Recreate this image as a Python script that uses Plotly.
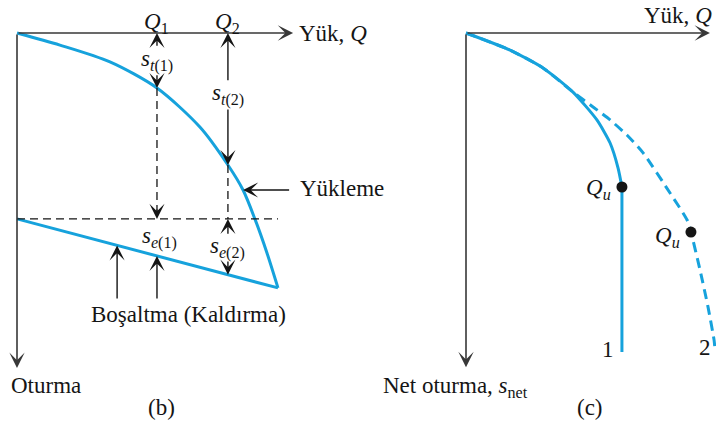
import plotly.graph_objects as go

# ---------------- data ----------------
# (b) loading and unloading of a pile: load Q vs settlement s (arbitrary units)
load_Q = [0, 1.56, 3.38, 5.09, 6.65, 7.67, 8.22, 8.65, 9.09, 9.49]
load_s = [0, 0.44, 1.05, 2.00, 3.42, 4.80, 5.71, 6.76, 8.00, 9.27]
unload_Q = [0, 9.49]
unload_s = [6.76, 9.27]
Q1, Q2 = 5.09, 7.67          # load levels marked on the axis
st1, st2 = 2.00, 4.80        # total settlements at Q1, Q2
s_ref = 6.76                 # dashed reference level
release_Q = [3.64, 5.09]     # where the "Boşaltma" arrows meet the unloading line

# (c) net settlement curves
curve1_Q = [0, 1.60, 2.80, 3.89, 4.76, 5.24, 5.53, 5.67]
curve1_s = [0, 0.62, 1.27, 2.15, 3.16, 4.00, 4.91, 5.60]
plunge1_Q = [5.67, 5.67]
plunge1_s = [5.60, 11.60]
curve2_Q = [0, 1.60, 2.80, 3.93, 4.62, 5.24, 5.85, 6.44, 7.42, 8.04, 8.18, 8.51, 8.80, 9.02, 9.05]
curve2_s = [0, 0.62, 1.27, 2.18, 2.69, 3.16, 3.71, 4.36, 5.82, 6.80, 7.24, 8.62, 9.96, 11.16, 11.45]
Qu1 = (5.67, 5.60)
Qu2 = (8.18, 7.24)

# ---------------- layout geometry ----------------
W, H = 716, 426
PX = 27.5                    # pixels per data unit, both panels
ORIGIN_B = (17, 33)          # axis origin of panel (b) in pixels
ORIGIN_C = (466, 33)         # axis origin of panel (c)
SPLIT = 360                  # pixel column dividing the two panels
axis_len_b = (10.04, 12.18)  # axis arrow lengths (Q, s) in data units
axis_len_c = (8.87, 12.15)

BLUE = "#16a2dc"
INK = "#151515"
AXIS = "#383838"
FONT = "Liberation Serif, Times New Roman, serif"
FS = 23


def arrow(xref, tip, tail, color=INK, width=1.4, size=1.8):
    return dict(x=tip[0], y=tip[1], ax=tail[0], ay=tail[1],
                xref=xref, yref="y", axref=xref, ayref="y",
                text="", showarrow=True, arrowhead=3, arrowsize=size,
                arrowwidth=width, arrowcolor=color, standoff=0)


def label(xref, x, y, text, xanchor="center", yanchor="middle",
          size=FS, xshift=0, yshift=0):
    return dict(x=x, y=y, xref=xref, yref="y", text=text, showarrow=False,
                xanchor=xanchor, yanchor=yanchor, xshift=xshift, yshift=yshift,
                font=dict(family=FONT, size=size, color=INK))


fig = go.Figure()

# ---- panel (b) ----
fig.add_trace(go.Scatter(x=load_Q, y=load_s, mode="lines", xaxis="x", yaxis="y",
                         line=dict(color=BLUE, width=3, shape="spline", smoothing=0.8)))
fig.add_trace(go.Scatter(x=unload_Q, y=unload_s, mode="lines", xaxis="x", yaxis="y",
                         line=dict(color=BLUE, width=3)))
# dashed reference level and dashed verticals
fig.add_trace(go.Scatter(x=[0, load_Q[-1]], y=[s_ref, s_ref], mode="lines",
                         line=dict(color=INK, width=1.3, dash="8px,5px")))
fig.add_trace(go.Scatter(x=[Q1, Q1], y=[st1, s_ref - 0.3], mode="lines",
                         line=dict(color=INK, width=1.3, dash="8px,5px")))
fig.add_trace(go.Scatter(x=[Q2, Q2], y=[st2, s_ref], mode="lines",
                         line=dict(color=INK, width=1.3, dash="8px,5px")))


def unload_at(q):
    return unload_s[0] + (unload_s[1] - unload_s[0]) * q / unload_Q[1]


ann = []
# axes
ann.append(arrow("x", (axis_len_b[0], 0), (0, 0), color=AXIS, width=1.6, size=1.6))
ann.append(arrow("x", (0, axis_len_b[1]), (0, 0), color=AXIS, width=1.6, size=1.6))
ann.append(label("x", axis_len_b[0] + 0.15, 0, "Yük, <i>Q</i>", xanchor="left"))
ann.append(label("x", -0.3, 12.8, "Oturma", xanchor="left"))
ann.append(label("x", 5.27, 13.6, "(b)"))
ann.append(label("x", Q1, -0.38, "<i>Q</i><sub>1</sub>"))
ann.append(label("x", Q2, -0.38, "<i>Q</i><sub>2</sub>"))

# total settlement dimension arrows
lab1, lab2 = 1.0, 2.25
gap = 0.48
ann.append(label("x", Q1, lab1, "<i>s</i><sub><i>t</i>(1)</sub>"))
ann.append(arrow("x", (Q1, 0), (Q1, lab1 - gap)))
ann.append(arrow("x", (Q1, st1), (Q1, lab1 + gap)))
ann.append(arrow("x", (Q1, s_ref), (Q1, s_ref - 0.4)))
ann.append(label("x", Q2, lab2, "<i>s</i><sub><i>t</i>(2)</sub>"))
ann.append(arrow("x", (Q2, 0), (Q2, lab2 - gap)))
ann.append(arrow("x", (Q2, st2), (Q2, lab2 + gap)))

# elastic rebound labels
ann.append(label("x", 5.18, 7.45, "<i>s</i><sub><i>e</i>(1)</sub>"))
lab_e2 = 7.8
ann.append(label("x", Q2, lab_e2, "<i>s</i><sub><i>e</i>(2)</sub>"))
ann.append(arrow("x", (Q2, s_ref), (Q2, lab_e2 - 0.45)))
ann.append(arrow("x", (Q2, unload_at(Q2)), (Q2, lab_e2 + 0.45)))

# callouts
ann.append(arrow("x", (load_Q[6], load_s[6]), (9.95, load_s[6])))
ann.append(label("x", 10.2, load_s[6] - 0.05, "Yükleme", xanchor="left"))
for q in release_Q:
    ann.append(arrow("x", (q, unload_at(q)), (q, 9.71)))
ann.append(label("x", 6.22, 10.25, "Boşaltma (Kaldırma)"))

# ---- panel (c) ----
fig.add_trace(go.Scatter(x=curve2_Q, y=curve2_s, mode="lines", xaxis="x2", yaxis="y",
                         line=dict(color=BLUE, width=3, dash="10px,6px",
                                   shape="spline", smoothing=0.6)))
fig.add_trace(go.Scatter(x=curve1_Q, y=curve1_s, mode="lines", xaxis="x2", yaxis="y",
                         line=dict(color=BLUE, width=3, shape="spline", smoothing=0.6)))
fig.add_trace(go.Scatter(x=plunge1_Q, y=plunge1_s, mode="lines", xaxis="x2", yaxis="y",
                         line=dict(color=BLUE, width=3)))
fig.add_trace(go.Scatter(x=[Qu1[0], Qu2[0]], y=[Qu1[1], Qu2[1]], mode="markers",
                         xaxis="x2", yaxis="y", marker=dict(color=INK, size=11)))

ann.append(arrow("x2", (axis_len_c[0], 0), (0, 0), color=AXIS, width=1.6, size=1.6))
ann.append(arrow("x2", (0, axis_len_c[1]), (0, 0), color=AXIS, width=1.6, size=1.6))
# axis title kept flush with the right edge of the figure
ann.append(dict(x=1, y=-0.62, xref="paper", yref="y", text="Yük, <i>Q</i>",
                showarrow=False, xanchor="right", yanchor="middle", xshift=-2,
                font=dict(family=FONT, size=FS, color=INK)))
ann.append(label("x2", -3.1, 12.87, "Net oturma, <i>s</i><sub>net</sub>", xanchor="left"))
ann.append(label("x2", 4.51, 13.6, "(c)"))
ann.append(label("x2", Qu1[0], Qu1[1], "<i>Q<sub>u</sub></i>", xanchor="right",
                 xshift=-9, yshift=-2))
ann.append(label("x2", Qu2[0], Qu2[1], "<i>Q<sub>u</sub></i>", xanchor="right",
                 xshift=-9, yshift=-5))
ann.append(label("x2", plunge1_Q[-1], plunge1_s[-1], "1", xanchor="right",
                 xshift=-6, yshift=3))
ann.append(label("x2", curve2_Q[-1], curve2_s[-1], "2", xanchor="right",
                 xshift=-2, yshift=0))


def axis_range(origin_px, left_px, right_px):
    return [(left_px - origin_px) / PX, (right_px - origin_px) / PX]


fig.update_layout(
    width=W, height=H, autosize=False,
    margin=dict(l=0, r=0, t=0, b=0, pad=0),
    paper_bgcolor="white", plot_bgcolor="white",
    showlegend=False, hovermode=False,
    font=dict(family=FONT, size=FS, color=INK),
    xaxis=dict(domain=[0, SPLIT / W], range=axis_range(ORIGIN_B[0], 0, SPLIT),
               visible=False, fixedrange=True),
    xaxis2=dict(domain=[SPLIT / W, 1], range=axis_range(ORIGIN_C[0], SPLIT, W),
                anchor="y", visible=False, fixedrange=True),
    yaxis=dict(domain=[0, 1], range=[(H - ORIGIN_B[1]) / PX, -ORIGIN_B[1] / PX],
               visible=False, fixedrange=True),
    annotations=ann,
)

fig.write_html("out.html")
